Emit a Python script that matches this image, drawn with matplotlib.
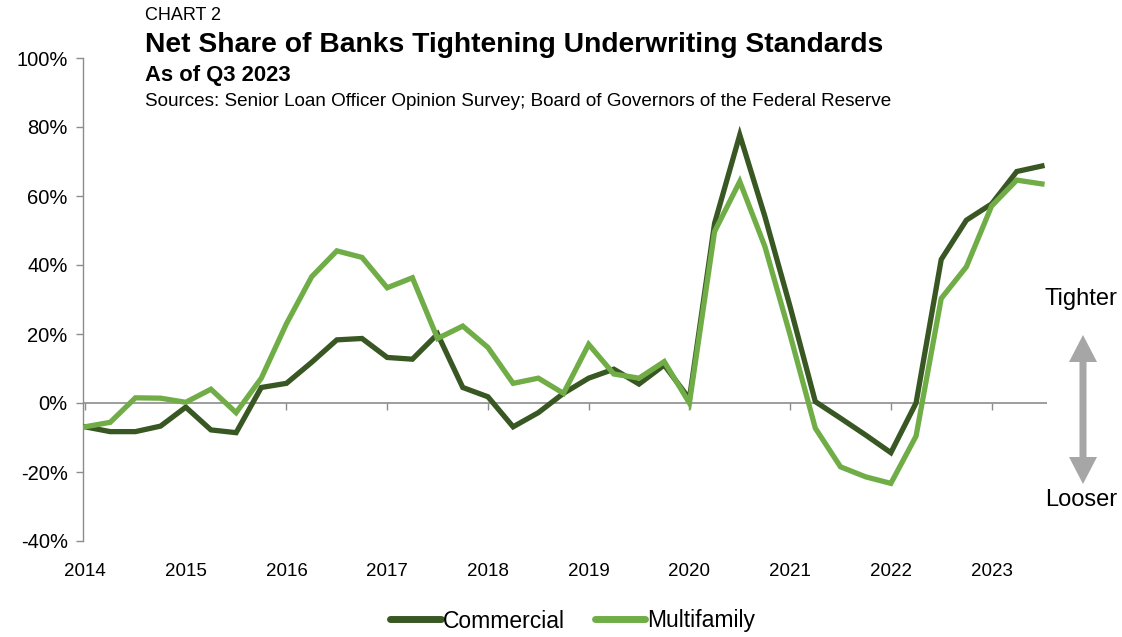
import matplotlib
matplotlib.use("Agg")
import matplotlib.pyplot as plt
from matplotlib.patches import Polygon

plt.rcParams['font.family'] = ['Liberation Sans', 'DejaVu Sans']

years = ['2014', '2015', '2016', '2017', '2018', '2019', '2020', '2021', '2022', '2023']
# Quarterly values, 2014 Q1 .. 2023 Q3 (percent)
commercial = [-6.9, -8.3, -8.3, -6.7, -1.2, -7.8, -8.6, 4.5, 5.7, 11.8,
              18.3, 18.7, 13.2, 12.7, 20.0, 4.5, 1.8, -6.9, -2.8, 2.8,
              7.2, 9.8, 5.5, 11.0, 1.2, 52.1, 77.7, 54.0, 27.9, 0.4,
              -4.4, -9.3, -14.4, 0.0, 41.6, 53.0, 57.7, 67.1, 68.7]
multifamily = [-6.9, -5.6, 1.5, 1.4, 0.2, 4.0, -2.8, 7.2, 23.0, 36.6,
               44.1, 42.2, 33.4, 36.3, 18.7, 22.3, 16.1, 5.7, 7.2, 2.8,
               17.0, 8.4, 7.2, 12.0, 0.0, 49.7, 64.2, 45.3, 19.7, -7.3,
               -18.5, -21.4, -23.3, -9.6, 30.3, 39.5, 57.1, 64.6, 63.5]
yticks = [-40, -20, 0, 20, 40, 60, 80, 100]

dark = '#385723'
light = '#70AD47'
gray = '#8C8C8C'

W, H = 1122, 637
fig = plt.figure(figsize=(W/100, H/100), dpi=100)
ax = fig.add_axes([83/W, 1-541/H, (1047-83)/W, (541-58)/H])

x = list(range(len(commercial)))
ax.plot(x, commercial, color=dark, lw=3.8, solid_joinstyle='miter', label='Commercial', zorder=3)
ax.plot(x, multifamily, color=light, lw=3.8, solid_joinstyle='miter', label='Multifamily', zorder=3)

ax.set_ylim(-40, 100)
ax.set_xlim(-0.08, 38.2)
ax.set_yticks(yticks)
ax.set_yticklabels([f'{v}%' for v in yticks], fontsize=14.5)
ax.tick_params(axis='y', direction='out', length=5, width=1, color=gray, pad=6)

for s in ['top', 'right', 'bottom']:
    ax.spines[s].set_visible(False)
ax.spines['left'].set_color(gray)
ax.spines['left'].set_linewidth(1)

xt = [4*i for i in range(len(years))]
ax.set_xticks(xt)
ax.set_xticklabels(years, fontsize=13.5)
ax.tick_params(axis='x', length=0, pad=16)

# zero line axis with tick marks
ax.axhline(0, color=gray, lw=1.2, zorder=2)
sec = ax.secondary_xaxis(40/140)
sec.set_xticks(xt)
sec.set_xticklabels(['']*len(xt))
sec.tick_params(axis='x', direction='out', length=5, width=1, color=gray)
sec.spines['bottom'].set_visible(False)

# Titles
fig.text(145/W, 1-15/H, 'CHART 2', fontsize=13, va='center', ha='left')
fig.text(145/W, 1-45/H, 'Net Share of Banks Tightening Underwriting Standards',
         fontsize=20.3, fontweight='bold', va='center', ha='left')
fig.text(145/W, 1-76/H, 'As of Q3 2023', fontsize=15.8, fontweight='bold', va='center', ha='left')
fig.text(145/W, 1-101/H, 'Sources: Senior Loan Officer Opinion Survey; Board of Governors of the Federal Reserve',
         fontsize=13.6, va='center', ha='left')

# Arrow annotation
fig.text(1081/W, 1-299/H, 'Tighter', fontsize=17, ha='center', va='center')
fig.text(1081/W, 1-500/H, 'Looser', fontsize=17, ha='center', va='center')
cx = 1083
pts_px = [(cx, 335), (cx+14, 362), (cx+3.5, 362), (cx+3.5, 457), (cx+14, 457), (cx, 484),
          (cx-14, 457), (cx-3.5, 457), (cx-3.5, 362), (cx-14, 362)]
arrow = Polygon([(px/W, 1-py/H) for px, py in pts_px], closed=True,
                transform=fig.transFigure, facecolor='#A6A6A6', edgecolor='none')
fig.add_artist(arrow)

leg = fig.legend(loc='center', bbox_to_anchor=(573/W, 1-621/H), ncol=2, frameon=False,
                 fontsize=16.5, handlelength=2.2, handletextpad=0.1, columnspacing=1.3)
for h in leg.get_lines():
    h.set_linewidth(5)
    h.set_solid_capstyle('round')

fig.savefig('out.png', dpi=100)
